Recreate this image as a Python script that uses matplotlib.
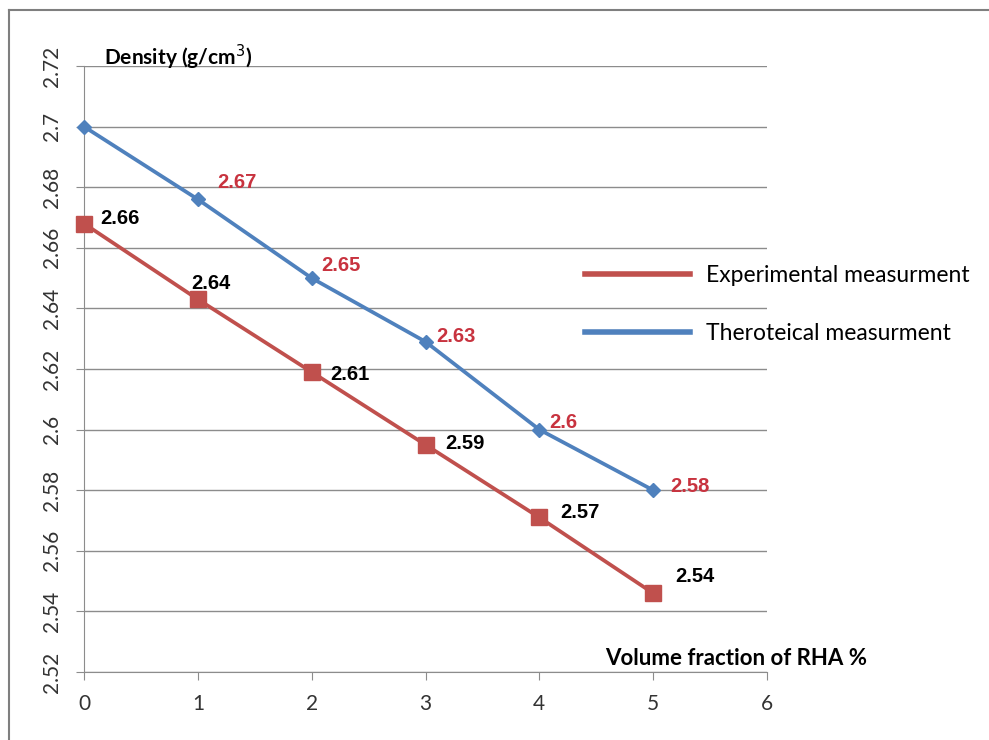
import matplotlib
matplotlib.use('Agg')
import matplotlib.pyplot as plt
from matplotlib.lines import Line2D

# data
volume_fraction = [0, 1, 2, 3, 4, 5]
experimental = [2.668, 2.643, 2.619, 2.595, 2.571, 2.546]
theoretical = [2.700, 2.676, 2.650, 2.629, 2.600, 2.580]
exp_labels = ['2.66', '2.64', '2.61', '2.59', '2.57', '2.54']
theo_labels = ['', '2.67', '2.65', '2.63', '2.6', '2.58']
y_ticks = [2.52, 2.54, 2.56, 2.58, 2.6, 2.62, 2.64, 2.66, 2.68, 2.7, 2.72]
y_tick_labels = ['2.52', '2.54', '2.56', '2.58', '2.6', '2.62', '2.64', '2.66', '2.68', '2.7', '2.72']

RED = '#C0504D'
BLUE = '#4F81BD'
LABEL_RED = '#C8333F'
GRID = '#8C8C8C'
calib = ['Lato', 'DejaVu Sans']

fig = plt.figure(figsize=(9.89, 7.40), dpi=100)
ax = fig.add_axes([84 / 989, 1 - 672 / 740, (767 - 84) / 989, (672 - 66) / 740])

# outer chart border (only left and top edges visible)
fig.add_artist(Line2D([9 / 989, 9 / 989], [0, 1 - 10 / 740], transform=fig.transFigure,
                      color='#7F7F7F', lw=1.5))
fig.add_artist(Line2D([9 / 989, 1], [1 - 10 / 740, 1 - 10 / 740], transform=fig.transFigure,
                      color='#7F7F7F', lw=1.5))

ax.plot(volume_fraction, experimental, color=RED, lw=2.7, marker='s', markersize=11.5,
        label='Experimental measurment', zorder=3, clip_on=False)
ax.plot(volume_fraction, theoretical, color=BLUE, lw=2.7, marker='D', markersize=7.5,
        label='Theroteical measurment', zorder=3, clip_on=False)

# data labels, offsets in points
exp_off = [(12, 4), (-4.5, 11.5), (13.5, -2), (14, 1), (15, 3.6), (16, 12)]
theo_off = [(0, 0), (14, 12), (7, 9), (8, 3.5), (7, 5), (12, 3)]
for x, y, t, o in zip(volume_fraction, experimental, exp_labels, exp_off):
    ax.annotate(t, (x, y), xytext=o, textcoords='offset points', fontsize=14.5,
                fontweight='bold', color='black', family='Liberation Sans',
                ha='left', va='center')
for x, y, t, o in zip(volume_fraction, theoretical, theo_labels, theo_off):
    if t:
        ax.annotate(t, (x, y), xytext=o, textcoords='offset points', fontsize=14.5,
                    fontweight='bold', color=LABEL_RED, family='Liberation Sans',
                    ha='left', va='center')

ax.set_xlim(0, 6)
ax.set_ylim(2.52, 2.72)
ax.set_xticks(range(0, 7))
ax.set_xticklabels([str(i) for i in range(0, 7)], family=calib, fontsize=15, color='#333333')
ax.set_yticks(y_ticks)
ax.set_yticklabels(y_tick_labels, rotation=90, va='center', family=calib, fontsize=15,
                   color='#333333')
ax.yaxis.grid(True, color=GRID, lw=1)
ax.set_axisbelow(True)
for s in ['top', 'right']:
    ax.spines[s].set_visible(False)
for s in ['left', 'bottom']:
    ax.spines[s].set_color(GRID)
ax.tick_params(axis='both', direction='out', length=6, color=GRID, pad=10)

ax.text(0.03, 1.015, 'Density (g/cm$^3$)', transform=ax.transAxes, fontsize=15,
        fontweight='bold', ha='left', va='center', family=calib)
ax.text(5.73, 2.521, 'Volume fraction of RHA %', fontsize=16, fontweight='bold',
        ha='center', va='bottom', family=calib)

ax.legend(handles=[Line2D([], [], color=RED, lw=4), Line2D([], [], color=BLUE, lw=4)],
          labels=['Experimental measurment', 'Theroteical measurment'],
          loc='upper left', bbox_to_anchor=(585 / 989, 1 - 265 / 740),
          bbox_transform=fig.transFigure, frameon=False,
          prop={'family': calib, 'size': 16.5},
          handlelength=4.6, handletextpad=0.7, labelspacing=1.6, borderpad=0,
          borderaxespad=0)

fig.savefig('out.png', dpi=100)
